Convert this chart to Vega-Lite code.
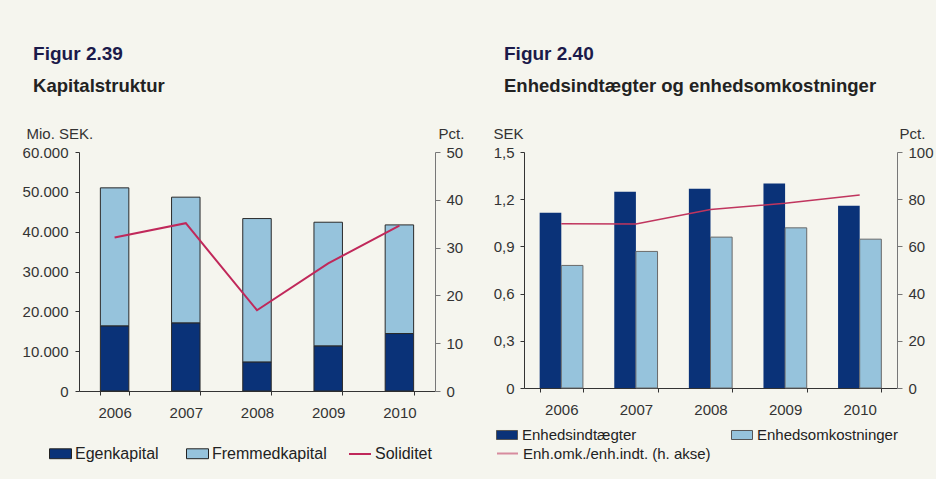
{
  "$schema": "https://vega.github.io/schema/vega-lite/v6.json",
  "background": "#f5f5ee",
  "padding": {"left": 22, "top": 44, "right": 4, "bottom": 18},
  "spacing": 29,
  "datasets": {
    "kapital": [
      {"year": "2006", "type": "Egenkapital", "order": 1, "value": 16360},
      {"year": "2006", "type": "Fremmedkapital", "order": 2, "value": 34640},
      {"year": "2007", "type": "Egenkapital", "order": 1, "value": 17110},
      {"year": "2007", "type": "Fremmedkapital", "order": 2, "value": 31550},
      {"year": "2008", "type": "Egenkapital", "order": 1, "value": 7300},
      {"year": "2008", "type": "Fremmedkapital", "order": 2, "value": 35990},
      {"year": "2009", "type": "Egenkapital", "order": 1, "value": 11330},
      {"year": "2009", "type": "Fremmedkapital", "order": 2, "value": 31040},
      {"year": "2010", "type": "Egenkapital", "order": 1, "value": 14430},
      {"year": "2010", "type": "Fremmedkapital", "order": 2, "value": 27270}
    ],
    "soliditet": [
      {"year": "2006", "series": "Soliditet", "value": 32.1},
      {"year": "2007", "series": "Soliditet", "value": 35.1},
      {"year": "2008", "series": "Soliditet", "value": 16.9},
      {"year": "2009", "series": "Soliditet", "value": 26.7},
      {"year": "2010", "series": "Soliditet", "value": 34.6}
    ],
    "enhed": [
      {"year": "2006", "type": "Enhedsindtægter", "value": 1.114},
      {"year": "2006", "type": "Enhedsomkostninger", "value": 0.779},
      {"year": "2007", "type": "Enhedsindtægter", "value": 1.248},
      {"year": "2007", "type": "Enhedsomkostninger", "value": 0.868},
      {"year": "2008", "type": "Enhedsindtægter", "value": 1.267},
      {"year": "2008", "type": "Enhedsomkostninger", "value": 0.959},
      {"year": "2009", "type": "Enhedsindtægter", "value": 1.299},
      {"year": "2009", "type": "Enhedsomkostninger", "value": 1.018},
      {"year": "2010", "type": "Enhedsindtægter", "value": 1.158},
      {"year": "2010", "type": "Enhedsomkostninger", "value": 0.946}
    ],
    "ratio": [
      {"year": "2006", "series": "Enh.omk./enh.indt. (h. akse)", "value": 69.6},
      {"year": "2007", "series": "Enh.omk./enh.indt. (h. akse)", "value": 69.5},
      {"year": "2008", "series": "Enh.omk./enh.indt. (h. akse)", "value": 75.6},
      {"year": "2009", "series": "Enh.omk./enh.indt. (h. akse)", "value": 78.3},
      {"year": "2010", "series": "Enh.omk./enh.indt. (h. akse)", "value": 81.8}
    ]
  },
  "hconcat": [
    {
      "title": {"text": "Figur 2.39", "subtitle": "Kapitalstruktur"},
      "width": 356,
      "height": 239,
      "layer": [
        {
          "data": {"name": "kapital"},
          "mark": {"type": "bar", "stroke": "#2a2a2a", "strokeWidth": 1},
          "encoding": {
            "x": {
              "field": "year", "type": "ordinal",
              "scale": {"paddingInner": 0.6, "paddingOuter": 0.3},
              "axis": {"title": null}
            },
            "y": {
              "field": "value", "type": "quantitative", "stack": "zero",
              "scale": {"domain": [0, 60000]},
              "axis": {
                "title": "Mio. SEK.", "titleAngle": 0, "titleAlign": "left", "titleBaseline": "alphabetic",
                "titleX": -53, "titleY": -14,
                "values": [0, 10000, 20000, 30000, 40000, 50000, 60000],
                "labelExpr": "replace(format(datum.value, ',.0f'), ',', '.')",
                "tickSize": 4, "labelPadding": 7
              }
            },
            "color": {
              "field": "type", "type": "nominal",
              "scale": {"domain": ["Egenkapital", "Fremmedkapital"], "range": ["#0a3278", "#96c3dc"]},
              "legend": {
                "orient": "none", "legendX": -30, "legendY": 290, "direction": "horizontal", "title": null,
                "symbolType": "M-1,-0.45H1V0.45H-1Z", "symbolSize": 484,
                "symbolStrokeColor": "#222", "symbolStrokeWidth": 1,
                "labelOffset": 3, "columnPadding": 25, "labelFontSize": 16
              }
            },
            "order": {"field": "order"}
          }
        },
        {
          "data": {"name": "soliditet"},
          "mark": {"type": "line", "strokeWidth": 2},
          "encoding": {
            "x": {"field": "year", "type": "ordinal"},
            "y": {
              "field": "value", "type": "quantitative",
              "scale": {"domain": [0, 50]},
              "axis": {
                "orient": "right", "title": "Pct.", "titleAngle": 0, "titleAlign": "left", "titleBaseline": "alphabetic",
                "titleX": 3, "titleY": -14,
                "values": [0, 10, 20, 30, 40, 50],
                "domainColor": "#777", "tickColor": "#777", "tickSize": 5, "labelPadding": 6
              }
            },
            "stroke": {
              "field": "series", "type": "nominal",
              "scale": {"domain": ["Soliditet"], "range": ["#c0285a"]},
              "legend": {
                "orient": "none", "legendX": 269, "legendY": 290, "title": null,
                "symbolType": "stroke", "symbolSize": 484, "symbolStrokeWidth": 2, "labelOffset": 3, "labelFontSize": 16
              }
            }
          }
        }
      ],
      "resolve": {"scale": {"y": "independent"}}
    },
    {
      "title": {"text": "Figur 2.40", "subtitle": "Enhedsindtægter og enhedsomkostninger"},
      "width": 373,
      "height": 236,
      "layer": [
        {
          "data": {"name": "enhed"},
          "mark": {"type": "bar", "strokeWidth": 1},
          "encoding": {
            "x": {
              "field": "year", "type": "ordinal",
              "scale": {"paddingInner": 0.42, "paddingOuter": 0.21},
              "axis": {"title": null}
            },
            "xOffset": {"field": "type", "type": "nominal", "scale": {"domain": ["Enhedsindtægter", "Enhedsomkostninger"]}},
            "y": {
              "field": "value", "type": "quantitative",
              "scale": {"domain": [0, 1.5]},
              "axis": {
                "title": "SEK", "titleAngle": 0, "titleAlign": "left", "titleBaseline": "alphabetic",
                "titleX": -31, "titleY": -14,
                "values": [0, 0.3, 0.6, 0.9, 1.2, 1.5],
                "labelExpr": "datum.value == 0 ? '0' : replace(format(datum.value, '.1f'), '.', ',')",
                "tickSize": 4, "labelPadding": 6
              }
            },
            "color": {
              "field": "type", "type": "nominal",
              "scale": {"domain": ["Enhedsindtægter", "Enhedsomkostninger"], "range": ["#0a3278", "#96c3dc"]},
              "legend": {
                "orient": "none", "legendX": -28, "legendY": 272, "direction": "horizontal", "title": null,
                "symbolType": "M-1,-0.43H1V0.43H-1Z", "symbolSize": 441,
                "symbolStrokeColor": "#555", "symbolStrokeWidth": 1,
                "labelOffset": 4, "columnPadding": 92
              }
            },
            "stroke": {
              "condition": {"test": "datum.type === 'Enhedsomkostninger'", "value": "#6a6a6a"},
              "value": null
            }
          }
        },
        {
          "data": {"name": "ratio"},
          "mark": {"type": "line", "strokeWidth": 1.5},
          "encoding": {
            "x": {"field": "year", "type": "ordinal"},
            "y": {
              "field": "value", "type": "quantitative",
              "scale": {"domain": [0, 100]},
              "axis": {
                "orient": "right", "title": "Pct.", "titleAngle": 0, "titleAlign": "left", "titleBaseline": "alphabetic",
                "titleX": 2, "titleY": -14,
                "values": [0, 20, 40, 60, 80, 100],
                "domainColor": "#777", "tickColor": "#777", "tickSize": 5, "labelPadding": 6
              }
            },
            "stroke": {
              "field": "series", "type": "nominal",
              "scale": {"domain": ["Enh.omk./enh.indt. (h. akse)"], "range": ["#c0355e"]},
              "legend": {
                "orient": "none", "legendX": -28, "legendY": 290, "title": null,
                "symbolType": "stroke", "symbolSize": 441, "symbolStrokeWidth": 2, "symbolOpacity": 0.55,
                "labelOffset": 4, "labelLimit": 400
              }
            }
          }
        }
      ],
      "resolve": {"scale": {"y": "independent"}}
    }
  ],
  "resolve": {"scale": {"color": "independent", "stroke": "independent"}},
  "config": {
    "font": "Liberation Sans",
    "view": {"stroke": null},
    "axis": {
      "labelFont": "Liberation Sans", "labelFontSize": 15, "labelColor": "#333",
      "domainColor": "#333", "tickColor": "#333", "grid": false,
      "titleFont": "Liberation Sans", "titleFontSize": 15, "titleFontWeight": "normal", "titleColor": "#333"
    },
    "axisX": {"labelAngle": 0, "tickBand": "extent", "tickSize": 4, "labelPadding": 10},
    "legend": {"labelFont": "Liberation Sans", "labelFontSize": 15, "labelColor": "#222", "labelLimit": 400},
    "title": {
      "anchor": "start", "font": "Liberation Sans", "fontSize": 19, "fontWeight": "bold", "color": "#1b1a4a",
      "subtitleFont": "Liberation Sans", "subtitleFontSize": 18.5, "subtitleFontWeight": "bold", "subtitleColor": "#222",
      "subtitlePadding": 13, "offset": 31, "dx": 11
    }
  }
}
